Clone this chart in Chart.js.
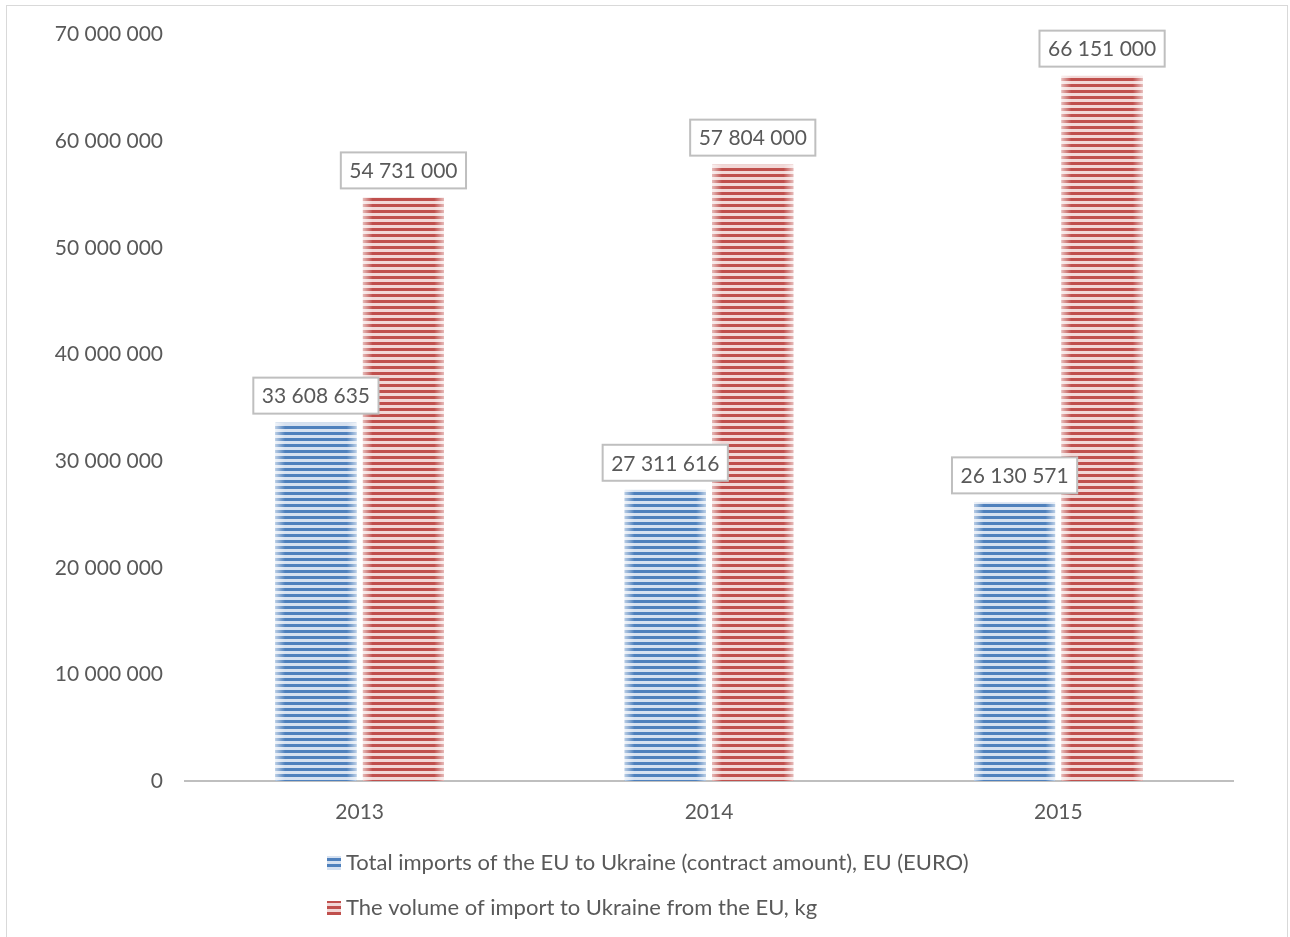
<!DOCTYPE html>
<html>
<head>
<meta charset="utf-8">
<script src="https://cdn.jsdelivr.net/npm/chart.js@4/dist/chart.umd.min.js"></script>
<style>
  html, body { margin: 0; padding: 0; background: #fff; }
  #wrap { position: relative; width: 1290px; height: 937px; overflow: hidden; }
  #frame { position: absolute; left: 6px; top: 5px; width: 1282px; height: 1000px; border: 1px solid #d9d9d9; box-sizing: border-box; pointer-events: none; }
  canvas { position: absolute; left: 0; top: 0; }
</style>
</head>
<body>
<div id="wrap">
  <canvas id="c" width="1290" height="937"></canvas>
  <div id="frame"></div>
</div>
<script>
const categories = ["2013", "2014", "2015"];
const seriesNames = [
  "Total imports of the EU to Ukraine (contract amount), EU (EURO)",
  "The volume of import to Ukraine from the EU, kg"
];
const importsEuro = [33608635, 27311616, 26130571];
const volumeKg = [54731000, 57804000, 66151000];
const yTicks = [0, 10000000, 20000000, 30000000, 40000000, 50000000, 60000000, 70000000];

const FONT = "Lato, 'Open Sans', sans-serif";
const TEXT = "#595959";

function fmt(v) {
  return String(Math.round(v)).replace(/\B(?=(\d{3})+(?!\d))/g, " ");
}

function stripes(dark, light) {
  const p = document.createElement("canvas");
  p.width = 4; p.height = 6;
  const g = p.getContext("2d");
  g.fillStyle = light; g.fillRect(0, 0, 4, 6);
  g.fillStyle = dark; g.fillRect(0, 0, 4, 3);
  return document.getElementById("c").getContext("2d").createPattern(p, "repeat");
}
const blueDark = "#4f81bd", blueLight = "#d6e1f0";
const redDark = "#c0504d", redLight = "#f2d8d7";
const bluePat = stripes(blueDark, blueLight);
const redPat = stripes(redDark, redLight);

const edgeGlow = {
  id: "edgeGlow",
  afterDatasetsDraw(chart) {
    const ctx = chart.ctx;
    chart.data.datasets.forEach((ds, di) => {
      chart.getDatasetMeta(di).data.forEach(bar => {
        const w = bar.width, x0 = bar.x - w / 2, x1 = bar.x + w / 2;
        const top = bar.y, bot = bar.base;
        const gr = ctx.createLinearGradient(x0, 0, x1, 0);
        gr.addColorStop(0, "rgba(255,255,255,0.6)");
        gr.addColorStop(0.12, "rgba(255,255,255,0)");
        gr.addColorStop(0.88, "rgba(255,255,255,0)");
        gr.addColorStop(1, "rgba(255,255,255,0.6)");
        ctx.save();
        ctx.fillStyle = gr;
        ctx.fillRect(x0, top, w, bot - top);
        ctx.restore();
      });
    });
  }
};

const labelBoxes = {
  id: "labelBoxes",
  afterDatasetsDraw(chart) {
    const ctx = chart.ctx;
    ctx.save();
    ctx.font = "21px " + FONT;
    ctx.textAlign = "center";
    ctx.textBaseline = "middle";
    chart.data.datasets.forEach((ds, di) => {
      chart.getDatasetMeta(di).data.forEach((bar, i) => {
        const txt = fmt(ds.data[i]);
        const tw = ctx.measureText(txt).width;
        const bw = tw + 17, bh = 36;
        const cx = bar.x, by = bar.y - 9 - bh;
        ctx.fillStyle = "#ffffff";
        ctx.fillRect(cx - bw / 2, by, bw, bh);
        ctx.strokeStyle = "#bfbfbf";
        ctx.lineWidth = 2;
        ctx.strokeRect(cx - bw / 2, by, bw, bh);
        ctx.fillStyle = TEXT;
        ctx.fillText(txt, cx, by + bh / 2 + 1);
      });
    });
    ctx.restore();
  }
};

const legendRows = {
  id: "legendRows",
  afterDraw(chart) {
    const ctx = chart.ctx;
    ctx.save();
    ctx.font = "22px " + FONT;
    ctx.textBaseline = "middle";
    ctx.textAlign = "left";
    const rows = [863, 908];
    const pats = [bluePat, redPat];
    rows.forEach((y, i) => {
      ctx.fillStyle = pats[i];
      ctx.fillRect(327, y - 7, 14, 14);
      ctx.fillStyle = TEXT;
      ctx.fillText(seriesNames[i], 346, y);
    });
    ctx.restore();
  }
};

new Chart(document.getElementById("c"), {
  type: "bar",
  data: {
    labels: categories,
    datasets: [
      { label: seriesNames[0], data: importsEuro, backgroundColor: bluePat, borderWidth: 0 },
      { label: seriesNames[1], data: volumeKg, backgroundColor: redPat, borderWidth: 0 }
    ]
  },
  options: {
    responsive: false,
    animation: false,
    devicePixelRatio: 1,
    layout: { padding: { top: 34, right: 57, left: 0, bottom: 0 } },
    datasets: { bar: { categoryPercentage: 0.501, barPercentage: 0.926 } },
    plugins: { legend: { display: false }, tooltip: { enabled: false } },
    scales: {
      x: {
        grid: { display: false, drawTicks: false },
        border: { display: true, color: "#bfbfbf", width: 2 },
        ticks: { color: TEXT, font: { family: FONT, size: 21 }, padding: 19 },
        afterFit(s) { s.height = 156; }
      },
      y: {
        min: 0, max: 70000000,
        grid: { display: false, drawTicks: false },
        border: { display: false },
        afterBuildTicks(s) { s.ticks = yTicks.map(v => ({ value: v })); },
        ticks: { color: TEXT, font: { family: FONT, size: 21 }, padding: 22, callback: v => fmt(v) },
        afterFit(s) { s.width = 185; }
      }
    }
  },
  plugins: [edgeGlow, labelBoxes, legendRows]
});
</script>
</body>
</html>
